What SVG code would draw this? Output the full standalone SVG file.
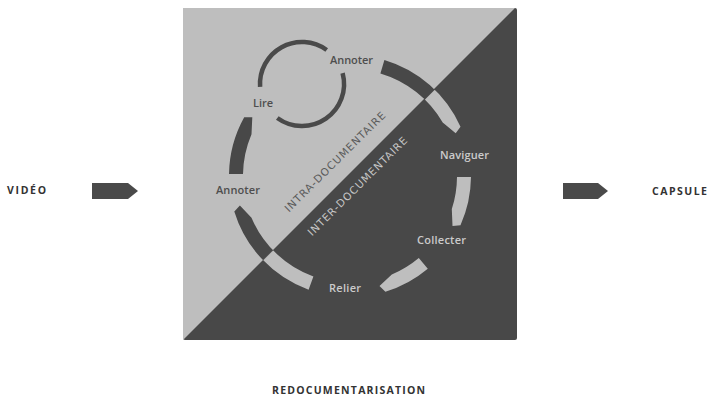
<svg xmlns="http://www.w3.org/2000/svg" xmlns:xlink="http://www.w3.org/1999/xlink" width="710" height="396" viewBox="0 0 710 396">
  <style>
    .t { font-family: "Open Sans", "Liberation Sans", sans-serif; font-weight: 600; font-size: 11px; }
    .cap { font-family: "Open Sans", "Liberation Sans", sans-serif; font-weight: 700; font-size: 10.5px; fill: #333333; }
    .dk { fill: #4e4e4e; }
    .lt { fill: #cbcbcb; }
    .diag { font-family: "DejaVu Sans", "Liberation Sans", sans-serif; font-weight: 400; font-size: 10.5px; }
    .arrow { fill: #4a4a4a; }
    .small { fill: none; stroke: #4a4a4a; stroke-width: 4.5; }
  </style>
  <defs>
    <clipPath id="clipLight"><polygon points="183,8 517,8 183,340"/></clipPath>
    <clipPath id="clipDark"><polygon points="517,8 517,340 183,340"/></clipPath>
    <g id="ring">
      <path d="M384.4,60.0 A121,121 0 0 1 460.5,126.8 L455.7,133.3 L442.7,122.5 A107,107 0 0 0 380.4,73.4 Z"/>
      <path d="M471.0,177.1 A121,121 0 0 1 460.5,225.2 L452.5,226.0 L451.8,209.1 A107,107 0 0 0 457.0,176.9 Z"/>
      <path d="M427.8,268.7 A121,121 0 0 1 385.4,291.7 L379.5,286.1 L391.8,274.5 A107,107 0 0 0 418.8,258.0 Z"/>
      <path d="M308.6,289.7 A121,121 0 0 1 234.3,211.4 L239.9,205.5 L251.5,217.8 A107,107 0 0 0 313.4,276.5 Z"/>
      <path d="M229.0,173.9 A121,121 0 0 1 244.2,117.3 L252.3,117.3 L251.5,134.2 A107,107 0 0 0 243.0,174.1 Z"/>
    </g>
  </defs>

  <g id="background">
    <rect x="183" y="8" width="334" height="332" rx="2" fill="#484848"/>
    <polygon points="183,8 515,8 183,340" fill="#bebebe"/>
  </g>

  <g id="connectors">
    <use xlink:href="#ring" fill="#484848" clip-path="url(#clipLight)"/>
    <use xlink:href="#ring" fill="#bebebe" clip-path="url(#clipDark)"/>
    <path class="small" d="M260.1,86.9 A42,42 0 0 1 326.7,50.0"/>
    <path class="small" d="M342.6,73.1 A42,42 0 0 1 277.3,118.0"/>
    <polygon class="arrow" points="92,183 128,183 138,191 128,199 92,199"/>
    <polygon class="arrow" points="563,183 598,183 608,191 598,199 563,199"/>
  </g>

  <g id="zones">
    <text class="diag" fill="#5a5a5a" text-anchor="middle" textLength="137" lengthAdjust="spacing" transform="translate(337.5,164.5) rotate(-44.8)">INTRA-DOCUMENTAIRE</text>
    <text class="diag" fill="#c6c6c6" text-anchor="middle" textLength="135" lengthAdjust="spacing" transform="translate(360,189) rotate(-44.8)">INTER-DOCUMENTAIRE</text>
  </g>

  <g id="node-video"><text class="cap" x="7" y="194" textLength="39" lengthAdjust="spacing">VIDÉO</text></g>
  <g id="node-capsule"><text class="cap" x="652" y="195" textLength="55" lengthAdjust="spacing">CAPSULE</text></g>
  <g id="node-redoc"><text class="cap" x="348.5" y="394" text-anchor="middle" textLength="153" lengthAdjust="spacing">REDOCUMENTARISATION</text></g>

  <g id="node-annoter-top"><text class="t dk" x="330" y="64" textLength="43" lengthAdjust="spacing">Annoter</text></g>
  <g id="node-lire"><text class="t dk" x="253" y="107" textLength="20" lengthAdjust="spacing">Lire</text></g>
  <g id="node-naviguer"><text class="t lt" x="440" y="159" textLength="49" lengthAdjust="spacing">Naviguer</text></g>
  <g id="node-collecter"><text class="t lt" x="417" y="244" textLength="49" lengthAdjust="spacing">Collecter</text></g>
  <g id="node-relier"><text class="t lt" x="329" y="292" textLength="32" lengthAdjust="spacing">Relier</text></g>
  <g id="node-annoter-left"><text class="t dk" x="216" y="194" textLength="44" lengthAdjust="spacing">Annoter</text></g>
</svg>
